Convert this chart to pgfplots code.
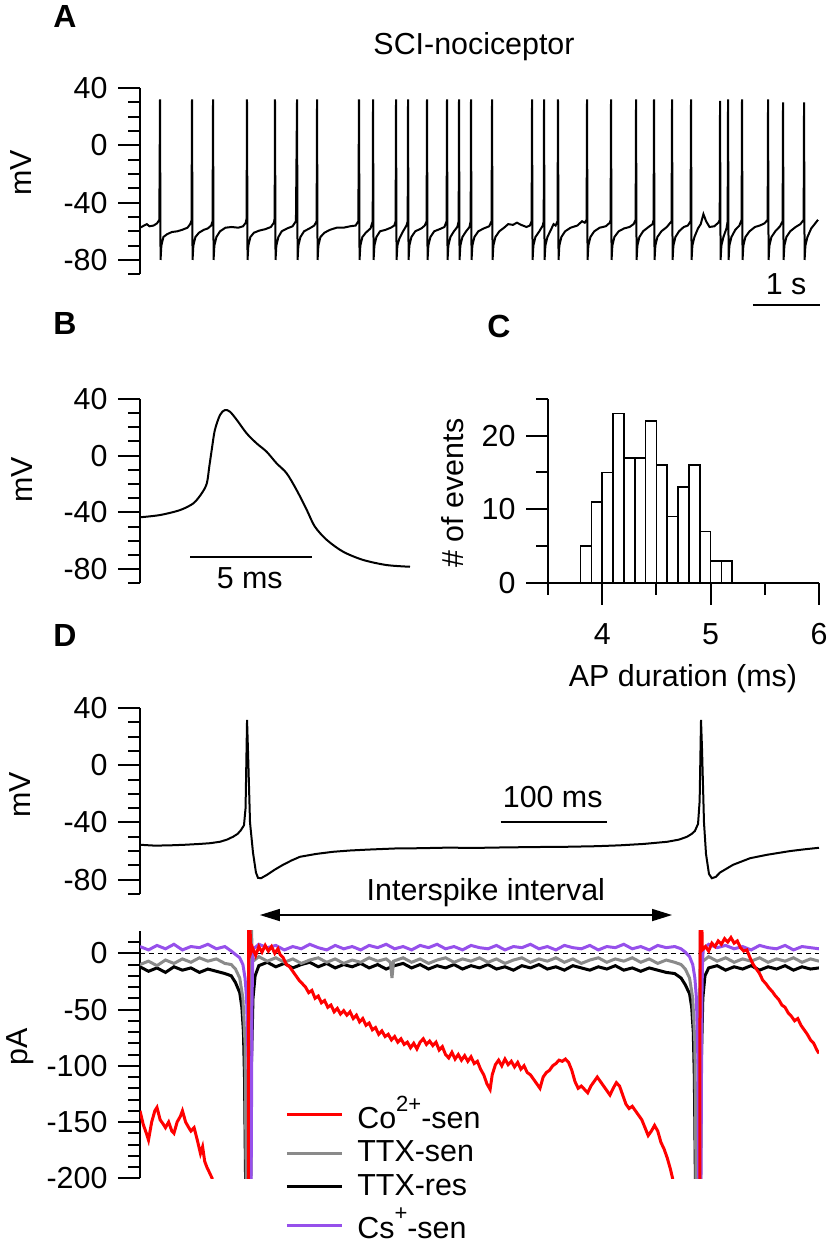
\documentclass[border=0pt]{standalone}
\usepackage{fontspec}
\setmainfont{Liberation Sans}
\usepackage{pgfplots}
\pgfplotsset{compat=1.18}
\usetikzlibrary{arrows.meta}
\definecolor{cored}{RGB}{255,0,0}
\definecolor{ttxgray}{RGB}{138,138,138}
\definecolor{cspurple}{RGB}{150,80,235}
\pgfplotsset{
  trace/.style={scale only axis, axis x line=none, axis y line=left,
    axis line style={-}, y axis line style={line width=1pt},
    xtick=\empty, tick align=outside, major tick length=11pt, minor tick length=6pt,
    tick style={black, line width=1pt}, clip=false, anchor=south west},
}
\begin{document}
\fontsize{15.2}{18}\selectfont
\begin{tikzpicture}
\path[use as bounding box] (0,0) rectangle (414pt,623pt);

% ---------- A ----------
\begin{axis}[trace, at={(70pt,485.85pt)}, width=339pt, height=93.15pt,
  xmin=0, xmax=10, ymin=-90, ymax=40,
  ytick={-80,-40,0,40}, yticklabels={-80,-40,0,40},
  minor ytick={-90,-70,-60,-50,-30,-20,-10,10,20,30}]
\addplot[black, line width=1pt] coordinates {
(0,-57.5)(0.06,-56)(0.1,-55)(0.14,-56.5)(0.2,-56)(0.25,-54.5)(0.285,-52)
(0.295,32)(0.303,-80)(0.315,-70)(0.345,-64)(0.4,-62)(0.47,-60.5)(0.55,-60)(0.62,-59)(0.7,-57.5)(0.74,-55)(0.76,-52.5)
(0.767,32)(0.775,-80)(0.787,-70)(0.817,-64)(0.87,-61)(0.94,-59)(1.0,-58)(1.05,-56)(1.07,-53)
(1.077,32)(1.085,-80)(1.097,-70)(1.127,-64)(1.18,-60)(1.26,-57.5)(1.35,-57)(1.45,-57.5)(1.52,-56.5)(1.56,-54)(1.572,-51)
(1.578,32)(1.586,-80)(1.598,-70)(1.628,-64)(1.68,-61)(1.76,-59.5)(1.85,-58.5)(1.93,-57)(1.975,-54)(1.986,-51)
(1.991,32)(1.999,-80)(2.011,-70)(2.041,-64)(2.09,-60)(2.17,-58)(2.25,-56.5)(2.3,-53)
(2.316,32)(2.324,-80)(2.336,-70)(2.366,-64)(2.42,-60)(2.5,-58)(2.57,-56)(2.605,-53)
(2.611,32)(2.619,-80)(2.631,-70)(2.661,-64)(2.72,-61)(2.8,-59)(2.9,-57.5)(3.0,-57.5)(3.1,-56.5)(3.18,-56)(3.22,-53)
(3.23,32)(3.238,-80)(3.25,-70)(3.28,-64)(3.33,-61)(3.4,-58)(3.432,-53)
(3.437,32)(3.445,-80)(3.457,-70)(3.487,-64)(3.54,-60)(3.62,-59)(3.7,-57.5)(3.75,-56)(3.77,-53)
(3.776,32)(3.784,-80)(3.796,-70)(3.826,-65)(3.88,-60)(3.93,-56)(3.948,-53)
(3.953,32)(3.961,-80)(3.973,-70)(4.003,-64)(4.06,-60)(4.15,-58)(4.2,-56)(4.227,-53)
(4.233,32)(4.241,-80)(4.253,-70)(4.283,-64)(4.34,-60)(4.42,-58.5)(4.49,-57)(4.522,-53)
(4.528,32)(4.536,-80)(4.548,-70)(4.578,-64)(4.63,-60)(4.68,-57)(4.7,-53)
(4.705,32)(4.713,-80)(4.725,-70)(4.755,-64)(4.81,-60)(4.86,-57)(4.877,-53)
(4.882,32)(4.89,-80)(4.902,-70)(4.932,-64)(4.99,-60)(5.07,-58)(5.15,-56.5)(5.185,-53)
(5.192,32)(5.2,-80)(5.212,-70)(5.242,-64)(5.3,-60)(5.37,-57.5)(5.43,-55)(5.5,-55.5)(5.56,-54)(5.62,-55.5)(5.7,-57)(5.75,-56)(5.776,-53)
(5.782,32)(5.79,-80)(5.802,-70)(5.832,-64)(5.89,-60)(5.94,-56)(5.954,-53)
(5.959,32)(5.967,-80)(5.979,-70)(6.009,-64)(6.06,-59)(6.1,-55)(6.13,-56)(6.158,-53)
(6.165,32)(6.173,-80)(6.185,-70)(6.215,-64)(6.27,-60)(6.35,-57.5)(6.45,-56)(6.52,-53)(6.56,-54)(6.587,-52)
(6.593,32)(6.601,-80)(6.613,-70)(6.643,-64)(6.7,-60)(6.78,-57.5)(6.87,-56.5)(6.93,-54)(6.941,-52)
(6.947,32)(6.955,-80)(6.967,-70)(6.997,-64)(7.06,-60)(7.14,-58)(7.22,-57)(7.28,-55)(7.31,-52)
(7.316,32)(7.324,-80)(7.336,-70)(7.366,-64)(7.42,-60)(7.5,-57)(7.56,-55)(7.575,-52)
(7.581,32)(7.589,-80)(7.601,-70)(7.631,-64)(7.69,-60)(7.77,-57)(7.84,-53)
(7.847,32)(7.855,-80)(7.867,-70)(7.897,-64)(7.95,-60)(8.02,-57)(8.08,-56)(8.12,-53)
(8.127,32)(8.135,-80)(8.147,-70)(8.177,-64)(8.23,-58)(8.27,-55)(8.31,-48)(8.35,-53)(8.4,-57)(8.47,-56.5)(8.53,-54)(8.55,-52)
(8.555,31)(8.563,-80)(8.575,-70)(8.605,-64)(8.65,-58)(8.667,-53)
(8.673,32)(8.681,-80)(8.693,-70)(8.723,-64)(8.78,-59)(8.84,-56)(8.873,-52)
(8.879,32)(8.887,-80)(8.899,-70)(8.929,-64)(8.99,-60)(9.07,-57)(9.14,-56)(9.21,-54.5)(9.257,-52)
(9.263,32)(9.271,-80)(9.283,-70)(9.313,-64)(9.37,-60)(9.44,-56.5)(9.478,-53)
(9.484,30)(9.492,-80)(9.504,-70)(9.534,-64)(9.59,-60)(9.67,-57)(9.74,-55)(9.788,-52)
(9.794,30)(9.802,-80)(9.814,-70)(9.844,-64)(9.9,-58)(9.95,-55)(10.0,-52)
};
\draw[line width=1pt] (axis cs:9.04,-111.4) -- (axis cs:10.03,-111.4);
\node[anchor=base] at (axis cs:9.53,-104.4) {1 s};
\end{axis}

% ---------- B ----------
\begin{axis}[trace, at={(70pt,331.4pt)}, width=135pt, height=92.1pt,
  xmin=0, xmax=11.07, ymin=-90, ymax=40,
  ytick={-80,-40,0,40}, yticklabels={-80,-40,0,40},
  minor ytick={-90,-70,-60,-50,-30,-20,-10,10,20,30}]
\addplot[black, line width=1pt, smooth] coordinates {
(0,-43.5)(0.82,-41.9)(1.64,-38.4)(2.19,-33.6)(2.53,-26.6)(2.74,-19.5)(2.84,-7.8)(2.94,4)(3.07,18.1)(3.28,28.7)(3.48,32.2)(3.69,31)(3.97,25.2)(4.37,15.8)(4.78,8.7)(5.19,2.8)(5.6,-5.4)(6.01,-12.4)(6.42,-24.2)(6.84,-38.4)(7.17,-50.1)(7.66,-59.5)(8.33,-67.8)(9.15,-73.6)(10.11,-77.2)(11.07,-78.4)
};
\draw[line width=1pt] (axis cs:2.05,-71.3) -- (axis cs:7.04,-71.3);
\node[anchor=base] at (axis cs:4.5,-93.4) {5 ms};
\end{axis}

% ---------- C ----------
\begin{axis}[scale only axis, anchor=south west, at={(274pt,331.5pt)}, width=135.5pt, height=92.1pt,
  axis x line=bottom, axis y line=left, axis line style={-},
  x axis line style={line width=1.3pt}, y axis line style={line width=1pt},
  tick align=outside, major tick length=11pt, minor tick length=6pt,
  tick style={black, line width=1pt},
  xticklabel style={yshift=-4pt},
  xmin=3.5, xmax=6, ymin=0, ymax=25,
  xtick={4,5,6}, xticklabels={4,5,6}, minor xtick={3.5,4.5,5.5},
  ytick={0,10,20}, yticklabels={0,10,20}, minor ytick={5,15,25}, clip=false]
\addplot[ybar interval, fill=white, draw=black, line width=0.8pt] coordinates {
(3.8,5)(3.9,11)(4.0,15)(4.1,23)(4.2,17)(4.3,17)(4.4,22)(4.5,16)(4.6,9)(4.7,13)(4.8,16)(4.9,7)(5.0,3)(5.1,3)(5.2,0)
};
\end{axis}

% ---------- D top ----------
\begin{axis}[trace, at={(70pt,176pt)}, width=339.5pt, height=93pt,
  xmin=0, xmax=640, ymin=-90, ymax=40,
  ytick={-80,-40,0,40}, yticklabels={-80,-40,0,40},
  minor ytick={-90,-70,-60,-50,-30,-20,-10,10,20,30}]
\addplot[black, line width=1pt] coordinates {
(0,-55.6)(14,-56.2)(28,-56)(42,-55.6)(56.6,-55)(66,-54.5)(75.4,-53.5)(82,-52)(87.7,-50)(92,-48)(95,-45.5)(98,-42)(99.5,-30)
(100.9,31.6)(101.8,10)(103.7,-40)(106.5,-61)(109.3,-75)(111.2,-78.7)(114,-79)(119.7,-76.6)(127,-73)(134.8,-69.6)(143,-66.5)(150.8,-64)
(166,-62)(182,-60.5)(198,-59.6)(214,-59)(240,-58.2)(264,-58)(290,-57.6)(315,-57.8)(339,-57.5)(370,-57.2)(402,-57)(430,-56.6)
(452,-56)(475,-55)(497,-53.5)(508,-52)(515.6,-50)(520,-48)(523,-46)(526,-41)(527.5,-25)
(528.8,31.6)(529.8,10)(531.6,-40)(533.5,-62)(536.3,-76)(539,-79)(542.8,-78)(546.7,-75)(559,-69.6)(575,-65)(591,-62.6)(612.7,-60)(626,-58.8)(640,-57.7)
};
\draw[line width=1pt] (axis cs:340,-39.5) -- (axis cs:440,-39.5);
\node[anchor=base] at (axis cs:389,-29.2) {100 ms};
\draw[{Triangle[length=10pt,width=6pt]}-{Triangle[length=10pt,width=6pt]}, line width=0.8pt]
  (axis cs:113,-104.7) -- (axis cs:501.5,-104.7);
\node[anchor=base] at (axis cs:326,-94.2) {Interspike interval};
\end{axis}

% ---------- D bottom ----------
\begin{axis}[scale only axis, anchor=south west, at={(70pt,33.85pt)}, width=339.5pt, height=123.75pt,
  axis x line=none, axis y line=left, axis line style={-}, y axis line style={line width=1pt},
  xtick=\empty, tick align=outside, major tick length=11pt, minor tick length=6pt,
  tick style={black, line width=1pt},
  xmin=0, xmax=640, ymin=-200, ymax=20,
  ytick={-200,-150,-100,-50,0}, yticklabels={-200,-150,-100,-50,0},
  minor ytick={-190,-180,-170,-160,-140,-130,-120,-110,-90,-80,-70,-60,-40,-30,-20,-10,10},
  legend style={at={(0.2135,0.35)}, anchor=north west, draw=none, fill=none, inner sep=0pt,
    row sep=0pt, column sep=5pt, font=\fontsize{15.2}{18}\selectfont},
  legend cell align=left,
  legend image code/.code={\draw[#1] (0pt,0pt) -- (27.5pt,0pt);}]
\addlegendimage{cored, line width=1.5pt}
\addlegendentry{Co\raisebox{0.55em}{\fontsize{11}{12}\selectfont 2+}-sen}
\addlegendimage{ttxgray, line width=1.5pt}
\addlegendentry{TTX-sen}
\addlegendimage{black, line width=1.5pt}
\addlegendentry{TTX-res}
\addlegendimage{cspurple, line width=1.5pt}
\addlegendentry{Cs\raisebox{0.6em}{\fontsize{11}{12}\selectfont +}-sen}
\draw[dashed, dash pattern=on 2.5pt off 2pt, line width=0.6pt] (axis cs:0,0) -- (axis cs:640,0);
% TTX-res
\addplot[black, line width=1.5pt, forget plot] coordinates {
(0,-12)(8,-16)(16,-13)(24,-17)(32,-12)(40,-15)(48,-13)(56,-17)(64,-14)(72,-16)(80,-18)(86,-20)(90,-26)(94,-35)(96,-48)(97.5,-70)(98.5,-110)(99.5,-200)(100.5,-260)
(104,-260)(105,-100)(106.5,-40)(108.5,-20)(112,-11)(120,-8)(128,-12)(136,-9)(144,-13)(152,-10)(160,-8)(168,-12)(176,-9)(184,-13)(192,-10)(200,-12)(208,-9)(216,-13)(224,-10)(232,-14)(240,-11)(248,-9)(256,-13)(264,-10)(272,-14)(280,-11)(288,-13)(296,-10)(304,-14)(312,-11)(320,-13)(328,-10)(336,-14)(344,-12)(352,-15)(360,-11)(368,-13)(376,-10)(384,-14)(392,-12)(400,-15)(408,-11)(416,-13)(424,-15)(432,-12)(440,-14)(448,-11)(456,-15)(464,-13)(472,-16)(480,-13)(488,-15)(496,-17)(504,-18)(510,-22)(514,-28)(518,-36)(520,-48)(521.5,-70)(522.5,-110)(523.5,-200)(524.5,-260)
(528,-260)(529,-100)(530.5,-40)(532.5,-20)(536,-13)(544,-11)(552,-15)(560,-12)(568,-14)(576,-11)(584,-15)(592,-12)(600,-14)(608,-11)(616,-15)(624,-12)(632,-14)(640,-13)
};
% TTX-sen
\addplot[ttxgray, line width=1.5pt, forget plot] coordinates {
(0,-10)(8,-7)(16,-11)(24,-6)(32,-9)(40,-5)(48,-8)(56,-4)(64,-7)(72,-5)(80,-9)(86,-10)(90,-14)(94,-22)(97,-40)(99,-80)(100.5,-250)(104.6,40)(105.8,-4)(108,-6)(112,-3)(120,-7)(128,-4)(136,-8)(144,-5)(152,-9)(160,-6)(168,-4)(176,-8)(184,-5)(192,-9)(200,-6)(208,-8)(216,-4)(224,-7)(232,-5)(236,-8)(237.5,-22)(239,-7)(248,-4)(256,-8)(264,-5)(272,-9)(280,-6)(288,-4)(296,-8)(304,-5)(312,-7)(320,-4)(328,-8)(336,-5)(344,-9)(352,-6)(360,-4)(368,-8)(376,-5)(384,-7)(392,-4)(400,-8)(408,-5)(416,-9)(424,-6)(432,-4)(440,-8)(448,-5)(456,-7)(464,-4)(472,-8)(480,-5)(488,-9)(496,-6)(504,-8)(510,-10)(514,-14)(518,-22)(521,-40)(523,-80)(524.5,-250)(528.6,40)(529.8,-4)(532,-6)(536,-3)(544,-7)(552,-4)(560,-8)(568,-5)(576,-7)(584,-4)(592,-8)(600,-5)(608,-7)(616,-4)(624,-8)(632,-5)(640,-7)
};
% Cs-sen
\addplot[cspurple, line width=1.5pt, forget plot] coordinates {
(0,6)(8,3)(16,7)(24,4)(32,8)(40,3)(48,6)(56,5)(64,8)(72,4)(80,6)(86,2)(90,-1)(94,-4)(97,-10)(99,-22)(100.5,-40)(102,-100)(103,-250)(104.5,-250)(105.6,-40)(106.3,-5)(107,4)(112,8)(120,5)(128,7)(136,3)(144,6)(152,4)(160,8)(168,5)(176,3)(184,7)(192,4)(200,6)(208,3)(216,7)(224,5)(232,8)(240,4)(248,6)(256,3)(264,7)(272,5)(280,8)(288,4)(296,6)(304,3)(312,7)(320,5)(328,4)(336,7)(344,3)(352,6)(360,5)(368,8)(376,4)(384,6)(392,3)(400,7)(408,5)(416,4)(424,7)(432,3)(440,6)(448,5)(456,8)(464,4)(472,6)(480,3)(488,7)(496,5)(504,6)(510,4)(514,1)(518,-3)(521,-10)(523,-22)(524.5,-40)(526,-100)(527,-250)(528.5,-250)(529.6,-40)(530.3,-5)(531,4)(536,8)(544,5)(552,7)(560,4)(568,6)(576,3)(584,7)(592,5)(600,4)(608,7)(616,3)(624,6)(632,5)(640,4)
};
% Co-sen
\addplot[cored, line width=1.5pt, forget plot] coordinates {
(0,-140)(3,-152)(6,-160)(8,-166)(11,-150)(14,-140)(16,-137)(19,-148)(22,-152)(24,-155)(27,-150)(30,-158)(32,-160)(35,-150)(38,-145)(40,-140)(43,-150)(46,-155)(48,-158)(51,-155)(54,-166)(57,-178)(59,-172)(61,-185)(63,-190)(66,-196)(68,-200)(70,-215)(90,-280)(102.0,-300)(102.4,60)(103.2,60)(104.2,0)
(106,5)(109,-2)(112,6)(115,1)(118,7)(121,2)(124,6)(127,0)(130,4)(132,-1)(135,-4)(138,-10)(141,-12)(144,-16)(147,-20)(150,-24)(153,-27)(156,-30)(159,-35)(162,-33)(165,-40)(168,-38)(171,-44)(174,-42)(177,-48)(180,-46)(183,-52)(186,-49)(189,-54)(192,-51)(195,-55)(198,-52)(201,-58)(204,-55)(207,-61)(210,-58)(213,-64)(216,-62)(219,-68)(222,-66)(225,-72)(228,-69)(231,-74)(234,-72)(237,-77)(240,-74)(243,-79)(246,-76)(249,-81)(252,-79)(255,-84)(258,-80)(261,-85)(264,-79)(267,-76)(270,-81)(273,-78)(276,-82)(279,-79)(282,-86)(285,-83)(288,-90)(291,-93)(294,-88)(297,-94)(300,-90)(303,-95)(306,-91)(309,-96)(312,-92)(315,-98)(318,-96)(321,-103)(324,-108)(327,-116)(330,-121)(332,-108)(335,-99)(338,-95)(341,-100)(344,-94)(347,-99)(350,-96)(353,-101)(356,-97)(359,-103)(362,-100)(365,-106)(368,-108)(371,-112)(374,-116)(377,-120)(380,-110)(383,-106)(386,-104)(389,-100)(392,-98)(395,-95)(398,-96)(401,-94)(404,-97)(407,-104)(410,-114)(413,-120)(416,-118)(419,-121)(422,-124)(425,-118)(428,-114)(431,-110)(434,-114)(437,-118)(440,-122)(443,-126)(446,-120)(449,-115)(452,-118)(455,-126)(458,-134)(461,-138)(464,-136)(467,-140)(470,-144)(473,-148)(476,-155)(479,-162)(482,-158)(485,-153)(488,-158)(491,-168)(494,-174)(497,-182)(500,-192)(502,-200)(505,-230)(527.5,-300)(528.0,60)(529.0,60)(530.0,3)
(533,6)(536,2)(539,9)(542,6)(545,11)(548,8)(551,13)(554,10)(557,14)(560,9)(563,11)(566,5)(569,2)(572,3)(575,-4)(578,-10)(581,-14)(584,-18)(587,-24)(590,-27)(593,-31)(596,-34)(599,-38)(602,-41)(605,-46)(608,-48)(611,-53)(614,-56)(617,-60)(620,-58)(623,-64)(626,-68)(629,-72)(632,-77)(635,-80)(638,-86)(640,-89)
};
\end{axis}

% ---------- texts ----------
\node[anchor=base] at (237pt,595.5pt) {SCI-nociceptor};
\node[anchor=base west, inner sep=0pt, font=\fontsize{16}{19}\selectfont\bfseries] at (26.5pt,609pt) {A};
\node[anchor=base west, inner sep=0pt, font=\fontsize{16}{19}\selectfont\bfseries] at (26.5pt,455.5pt) {B};
\node[anchor=base west, inner sep=0pt, font=\fontsize{16}{19}\selectfont\bfseries] at (243.5pt,454pt) {C};
\node[anchor=base west, inner sep=0pt, font=\fontsize{16}{19}\selectfont\bfseries] at (26.5pt,299.5pt) {D};
\node[rotate=90] at (10.5pt,536.5pt) {mV};
\node[rotate=90] at (11pt,383pt) {mV};
\node[rotate=90] at (226.5pt,376.5pt) {\# of events};
\node[anchor=base] at (341.5pt,279.5pt) {AP duration (ms)};
\node[rotate=90] at (10pt,225.5pt) {mV};
\node[rotate=90] at (10pt,99.5pt) {pA};
\end{tikzpicture}
\end{document}
